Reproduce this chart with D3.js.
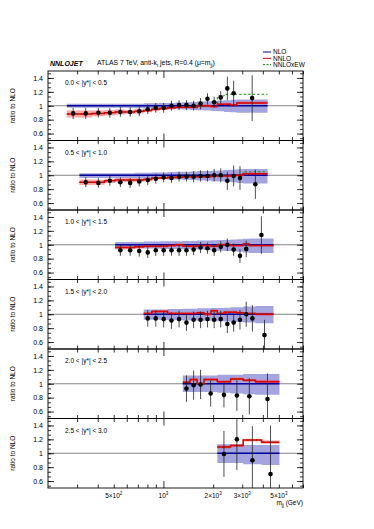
<!DOCTYPE html>
<html>
<head>
<meta charset="utf-8">
<script src="https://cdn.jsdelivr.net/npm/d3@7"></script>
<style>
  body { margin: 0; background: #fff; }
  text { font-family: "Liberation Sans", Arial, sans-serif; }
</style>
</head>
<body>
<svg id="chart" width="374" height="529"></svg>
<script>
// ---- data (ratio to NLO) ----
const rapLabels = ["0.0 < |y*| < 0.5", "0.5 < |y*| < 1.0", "1.0 < |y*| < 1.5",
                   "1.5 < |y*| < 2.0", "2.0 < |y*| < 2.5", "2.5 < |y*| < 3.0"];

const edges0 = [260,310,370,440,510,590,670,760,850,950,1060,1180,1310,1450,1600,1760,1940,2120,2330,2550,2780,4270];
const data0  = [0.89,0.89,0.90,0.90,0.91,0.91,0.92,0.95,0.97,0.97,1.00,1.01,1.01,1.00,1.03,1.10,1.05,1.12,1.25,1.18,1.11];
const err0   = [0.08,0.08,0.07,0.07,0.07,0.07,0.07,0.07,0.07,0.07,0.07,0.07,0.07,0.07,0.08,0.08,0.08,0.09,0.17,0.18,0.33];
const nnlo0  = [0.88,0.88,0.89,0.90,0.91,0.91,0.92,0.93,0.95,0.96,0.97,0.98,0.98,0.98,1.00,1.00,0.99,1.02,1.02,1.01,1.04];
const nnloE0 = [0.05,0.05,0.04,0.04,0.035,0.03,0.03,0.025,0.025,0.02,0.02,0.02,0.02,0.02,0.02,0.02,0.02,0.02,0.02,0.02,0.02];
const nloUp0 = [0.03,0.03,0.03,0.03,0.03,0.03,0.03,0.035,0.035,0.04,0.04,0.045,0.05,0.055,0.06,0.065,0.07,0.075,0.08,0.085,0.09];
const nloDn0 = [0.03,0.03,0.03,0.03,0.03,0.03,0.035,0.04,0.04,0.045,0.05,0.05,0.055,0.06,0.065,0.07,0.075,0.08,0.09,0.095,0.10];
const ew0    = [0.88,0.88,0.89,0.90,0.91,0.91,0.92,0.93,0.95,0.96,0.97,0.98,0.98,0.98,1.00,1.00,0.99,1.14,1.165,1.165,1.165];

const edges1 = [310,370,440,510,590,670,760,850,950,1060,1180,1310,1450,1600,1760,1940,2120,2330,2550,2780,3040,4270];
const data1  = [0.90,0.89,0.92,0.90,0.89,0.91,0.93,0.95,0.97,0.96,0.98,0.98,0.98,0.99,0.99,1.00,1.00,0.92,0.99,0.96,0.87];
const err1   = [0.07,0.07,0.07,0.07,0.07,0.07,0.07,0.07,0.07,0.07,0.07,0.07,0.08,0.08,0.08,0.09,0.10,0.13,0.15,0.17,0.21];
const nnlo1  = [0.90,0.90,0.92,0.93,0.93,0.93,0.94,0.96,0.96,0.97,0.97,0.98,0.98,0.98,0.98,0.99,0.99,0.99,1.00,1.00,1.02];
const nnloE1 = [0.04,0.035,0.03,0.03,0.03,0.025,0.025,0.02,0.02,0.02,0.02,0.02,0.02,0.02,0.02,0.02,0.02,0.02,0.02,0.02,0.02];
const nloUp1 = [0.03,0.03,0.03,0.03,0.03,0.035,0.035,0.04,0.04,0.045,0.05,0.05,0.055,0.06,0.06,0.065,0.07,0.075,0.08,0.085,0.09];
const nloDn1 = [0.04,0.04,0.04,0.04,0.04,0.045,0.05,0.05,0.055,0.06,0.06,0.065,0.07,0.075,0.08,0.085,0.09,0.095,0.10,0.11,0.12];
const ew1    = [0.90,0.90,0.92,0.93,0.93,0.93,0.94,0.96,0.96,0.97,0.97,0.98,0.98,0.98,0.98,0.99,0.99,0.99,1.00,1.00,1.05];

const edges2 = [510,590,670,760,850,950,1060,1180,1310,1450,1600,1760,1940,2120,2330,2550,2780,3040,3310,4640];
const data2  = [0.92,0.92,0.91,0.89,0.92,0.92,0.92,0.92,0.92,0.93,0.96,0.95,0.92,0.97,1.00,0.93,0.84,0.94,1.14];
const err2   = [0.08,0.08,0.08,0.08,0.08,0.08,0.08,0.08,0.08,0.08,0.08,0.08,0.08,0.08,0.09,0.09,0.10,0.12,0.27];
const nnlo2  = [0.96,0.96,0.97,0.98,0.98,0.98,0.99,1.00,0.98,0.98,0.99,0.99,0.98,1.00,1.00,0.99,0.99,1.01,0.99];
const nnloE2 = [0.03,0.025,0.025,0.02,0.02,0.02,0.02,0.02,0.02,0.02,0.02,0.02,0.02,0.02,0.02,0.02,0.02,0.02,0.02];
const nloUp2 = [0.04,0.04,0.04,0.045,0.045,0.05,0.05,0.05,0.055,0.055,0.06,0.06,0.065,0.07,0.07,0.075,0.08,0.085,0.09];
const nloDn2 = [0.05,0.05,0.05,0.055,0.055,0.06,0.06,0.065,0.065,0.07,0.07,0.075,0.08,0.085,0.09,0.095,0.10,0.11,0.12];
const ew2    = [0.96,0.96,0.97,0.98,0.98,0.98,0.99,1.00,0.98,0.98,0.99,0.99,0.98,1.00,1.00,0.99,0.99,1.01,0.99];

const edges3 = [760,850,950,1060,1180,1310,1450,1600,1760,1940,2120,2330,2550,2780,3040,3310,3610,4640];
const data3  = [0.94,0.94,0.93,0.91,0.93,0.88,0.92,0.92,0.93,0.92,0.93,0.86,0.88,0.92,1.00,0.94,0.70];
const err3   = [0.12,0.12,0.12,0.12,0.12,0.12,0.12,0.12,0.12,0.12,0.12,0.13,0.13,0.14,0.18,0.19,0.22];
const nnlo3  = [1.01,1.04,1.04,1.01,1.01,1.01,1.01,1.02,1.00,1.05,1.01,1.03,1.03,1.02,1.01,1.01,1.00];
const nnloE3 = [0.02,0.02,0.02,0.02,0.02,0.02,0.02,0.02,0.02,0.02,0.02,0.02,0.02,0.02,0.02,0.02,0.02];
const nloUp3 = [0.07,0.07,0.07,0.075,0.075,0.08,0.08,0.085,0.085,0.09,0.09,0.095,0.10,0.10,0.11,0.11,0.12];
const nloDn3 = [0.08,0.08,0.08,0.085,0.085,0.09,0.09,0.095,0.095,0.10,0.10,0.105,0.11,0.11,0.12,0.12,0.13];
const ew3    = [1.01,1.04,1.04,1.01,1.01,1.01,1.01,1.02,1.00,1.05,1.01,1.03,1.03,1.02,1.01,1.01,1.00];

const edges4 = [1310,1450,1600,1760,2120,2550,3040,3610,5040];
const data4  = [0.93,0.98,0.99,0.86,0.84,0.83,0.82,0.78];
const err4   = [0.19,0.21,0.21,0.19,0.18,0.22,0.26,0.37];
const nnlo4  = [1.02,1.06,1.00,1.06,1.03,1.07,1.05,1.03];
const nnloE4 = [0.02,0.02,0.02,0.02,0.02,0.02,0.02,0.025];
const nloUp4 = [0.12,0.12,0.12,0.12,0.13,0.13,0.14,0.14];
const nloDn4 = [0.12,0.12,0.12,0.12,0.13,0.14,0.15,0.16];
const ew4    = [1.02,1.06,1.00,1.06,1.03,1.07,1.05,1.03];

const edges5 = [2120,2550,3040,3930,5040];
const data5  = [0.99,1.20,0.90,0.70];
const err5   = [0.33,0.44,0.49,0.70];
const nnlo5  = [1.09,1.11,1.19,1.16];
const nnloE5 = [0.02,0.02,0.02,0.025];
const nloUp5 = [0.13,0.13,0.12,0.12];
const nloDn5 = [0.14,0.14,0.16,0.17];
const ew5    = [1.09,1.11,1.19,1.16];

const xTickVals   = [500, 1000, 2000, 3000, 5000];
const xTickMant   = ["5\u00d710", "10", "2\u00d710", "3\u00d710", "5\u00d710"];
const xTickExp    = ["2", "3", "3", "3", "3"];
const xMinorTicks = [300,400,500,600,700,800,900,2000,3000,4000,5000,6000,7000];
const yMajorTicks = [0.6, 0.8, 1.0, 1.2, 1.4];

const panels = [
  {edges: edges0, data: data0, err: err0, nnlo: nnlo0, nnloE: nnloE0, up: nloUp0, dn: nloDn0, ew: ew0},
  {edges: edges1, data: data1, err: err1, nnlo: nnlo1, nnloE: nnloE1, up: nloUp1, dn: nloDn1, ew: ew1},
  {edges: edges2, data: data2, err: err2, nnlo: nnlo2, nnloE: nnloE2, up: nloUp2, dn: nloDn2, ew: ew2},
  {edges: edges3, data: data3, err: err3, nnlo: nnlo3, nnloE: nnloE3, up: nloUp3, dn: nloDn3, ew: ew3},
  {edges: edges4, data: data4, err: err4, nnlo: nnlo4, nnloE: nnloE4, up: nloUp4, dn: nloDn4, ew: ew4},
  {edges: edges5, data: data5, err: err5, nnlo: nnlo5, nnloE: nnloE5, up: nloUp5, dn: nloDn5, ew: ew5}
];

// ---- layout ----
const svg = d3.select("#chart");
const left = 48, right = 303, top0 = 71, panelH = 69.5;
const x = d3.scaleLog().domain([200, 7000]).range([left, right]);

const yMinorTicks = d3.range(0.4, 1.5, 0.2 / 3).filter(v => v > 0.5 && v < 1.5);

const fmtY = d => (Math.abs(d - 1) < 1e-9 ? "1" : d.toFixed(1));

function styleAxis(g, fs) {
  g.select(".domain").remove();
  g.selectAll("line").attr("stroke", "#000").attr("stroke-width", 0.8);
  g.selectAll("text").attr("font-size", fs).attr("font-family", "Liberation Sans, Arial, sans-serif").attr("fill", "#000");
}

panels.forEach((p, i) => {
  const top = top0 + i * panelH;
  const bottom = top + panelH;
  const y = d3.scaleLinear().domain([0.5, 1.5]).range([bottom, top]);
  const nb = p.data.length;
  const centers = p.data.map((_, k) => Math.sqrt(p.edges[k] * p.edges[k + 1]));
  const stepIdx = d3.range(nb + 1);
  const vAt = (arr, k) => arr[Math.min(k, nb - 1)];

  svg.append("clipPath").attr("id", "clip" + i)
    .append("rect").attr("x", left).attr("y", top).attr("width", right - left).attr("height", panelH);
  const g = svg.append("g").attr("clip-path", `url(#clip${i})`);

  // NLO uncertainty band
  g.append("path")
    .datum(stepIdx)
    .attr("fill", "#4a4ac0").attr("fill-opacity", 0.5)
    .attr("d", d3.area().curve(d3.curveStepAfter)
      .x(k => x(p.edges[k]))
      .y0(k => y(1 - vAt(p.dn, k)))
      .y1(k => y(1 + vAt(p.up, k))));

  // NNLO band
  g.append("path")
    .datum(stepIdx)
    .attr("fill", "#ff2020").attr("fill-opacity", 0.4)
    .attr("d", d3.area().curve(d3.curveStepAfter)
      .x(k => x(p.edges[k]))
      .y0(k => y(vAt(p.nnlo, k) - vAt(p.nnloE, k)))
      .y1(k => y(vAt(p.nnlo, k) + vAt(p.nnloE, k))));

  // reference line at 1
  g.append("line")
    .attr("x1", left).attr("x2", right).attr("y1", y(1)).attr("y2", y(1))
    .attr("stroke", "#777").attr("stroke-width", 0.9);

  // NLO central (=1)
  g.append("line")
    .attr("x1", x(p.edges[0])).attr("x2", x(p.edges[nb])).attr("y1", y(1)).attr("y2", y(1))
    .attr("stroke", "#0000a0").attr("stroke-width", 1.5);

  // NNLOxEW
  g.append("path")
    .datum(stepIdx)
    .attr("fill", "none").attr("stroke", "#1a8a1a").attr("stroke-width", 1)
    .attr("stroke-dasharray", "2.5,2")
    .attr("d", d3.line().curve(d3.curveStepAfter)
      .x(k => x(p.edges[k])).y(k => y(vAt(p.ew, k))));

  // NNLO central
  g.append("path")
    .datum(stepIdx)
    .attr("fill", "none").attr("stroke", "#e00000").attr("stroke-width", 1.5)
    .attr("d", d3.line().curve(d3.curveStepAfter)
      .x(k => x(p.edges[k])).y(k => y(vAt(p.nnlo, k))));

  // data
  const pts = g.append("g");
  p.data.forEach((v, k) => {
    const cx = x(centers[k]);
    pts.append("line")
      .attr("x1", cx).attr("x2", cx)
      .attr("y1", y(v - p.err[k])).attr("y2", y(v + p.err[k]))
      .attr("stroke", "#222").attr("stroke-width", 0.8);
    pts.append("circle").attr("cx", cx).attr("cy", y(v)).attr("r", 2.3).attr("fill", "#000");
  });

  // frame
  svg.append("rect")
    .attr("x", left).attr("y", top).attr("width", right - left).attr("height", panelH)
    .attr("fill", "none").attr("stroke", "#000").attr("stroke-width", 0.9);

  // y axes (ticks pointing inwards)
  svg.append("g").attr("transform", `translate(${left},0)`)
    .call(d3.axisLeft(y).tickValues(yMajorTicks).tickSize(-6).tickPadding(5).tickFormat(fmtY))
    .call(a => styleAxis(a, 7));
  svg.append("g").attr("transform", `translate(${left},0)`)
    .call(d3.axisLeft(y).tickValues(yMinorTicks).tickSize(-3).tickFormat(""))
    .call(a => styleAxis(a, 7));
  svg.append("g").attr("transform", `translate(${right},0)`)
    .call(d3.axisRight(y).tickValues(yMajorTicks).tickSize(-6).tickFormat(""))
    .call(a => styleAxis(a, 7));
  svg.append("g").attr("transform", `translate(${right},0)`)
    .call(d3.axisRight(y).tickValues(yMinorTicks).tickSize(-3).tickFormat(""))
    .call(a => styleAxis(a, 7));

  // x ticks on bottom and top
  svg.append("g").attr("transform", `translate(0,${bottom})`)
    .call(d3.axisBottom(x).tickValues(xMinorTicks).tickSize(-3.5).tickFormat(""))
    .call(a => styleAxis(a, 7));
  svg.append("g").attr("transform", `translate(0,${bottom})`)
    .call(d3.axisBottom(x).tickValues([1000]).tickSize(-7).tickFormat(""))
    .call(a => styleAxis(a, 7));
  svg.append("g").attr("transform", `translate(0,${top})`)
    .call(d3.axisTop(x).tickValues(xMinorTicks).tickSize(-3.5).tickFormat(""))
    .call(a => styleAxis(a, 7));
  svg.append("g").attr("transform", `translate(0,${top})`)
    .call(d3.axisTop(x).tickValues([1000]).tickSize(-7).tickFormat(""))
    .call(a => styleAxis(a, 7));

  // rapidity label
  svg.append("text")
    .attr("x", 65).attr("y", top + 14)
    .attr("font-size", 6.5).text(rapLabels[i]);

  // y title
  svg.append("text")
    .attr("transform", `translate(15,${top + panelH / 2}) rotate(-90)`)
    .attr("text-anchor", "middle").attr("font-size", 6.5)
    .text("ratio to NLO");
});

// x tick labels on the bottom panel
const bottomY = top0 + 6 * panelH;
xTickVals.forEach((v, k) => {
  const t = svg.append("text")
    .attr("x", x(v)).attr("y", bottomY + 10)
    .attr("text-anchor", "middle").attr("font-size", 6.5);
  t.append("tspan").text(xTickMant[k]);
  t.append("tspan").attr("dy", -3).attr("font-size", 4.5).text(xTickExp[k]);
});

// x title
const xt = svg.append("text").attr("x", right).attr("y", bottomY + 17)
  .attr("text-anchor", "end").attr("font-size", 6.5);
xt.append("tspan").text("m");
xt.append("tspan").attr("dy", 1.5).attr("font-size", 4.5).text("jj");
xt.append("tspan").attr("dy", -1.5).text(" (GeV)");

// header
svg.append("text").attr("x", 50).attr("y", 66)
  .attr("font-size", 7).attr("font-weight", "bold").attr("font-style", "italic")
  .text("NNLOJET");
const ht = svg.append("text").attr("x", 97).attr("y", 65).attr("font-size", 6.8);
ht.append("tspan").text("ATLAS 7 TeV, anti-k");
ht.append("tspan").attr("dy", 1.5).attr("font-size", 4.5).text("t");
ht.append("tspan").attr("dy", -1.5).text(" jets, R=0.4 (\u03bc=m");
ht.append("tspan").attr("dy", 1.5).attr("font-size", 4.5).text("jj");
ht.append("tspan").attr("dy", -1.5).text(")");

// legend
const legItems = [
  {name: "NLO", color: "#0000a0", dash: null},
  {name: "NNLO", color: "#e00000", dash: null},
  {name: "NNLOxEW", color: "#1a8a1a", dash: "2,1.5"}
];
legItems.forEach((d, k) => {
  const ly = 52 + k * 6.3;
  svg.append("line").attr("x1", 263).attr("x2", 271).attr("y1", ly).attr("y2", ly)
    .attr("stroke", d.color).attr("stroke-width", 1).attr("stroke-dasharray", d.dash);
  svg.append("text").attr("x", 273).attr("y", ly + 2.3).attr("font-size", 6.5).text(d.name);
});
</script>
</body>
</html>
